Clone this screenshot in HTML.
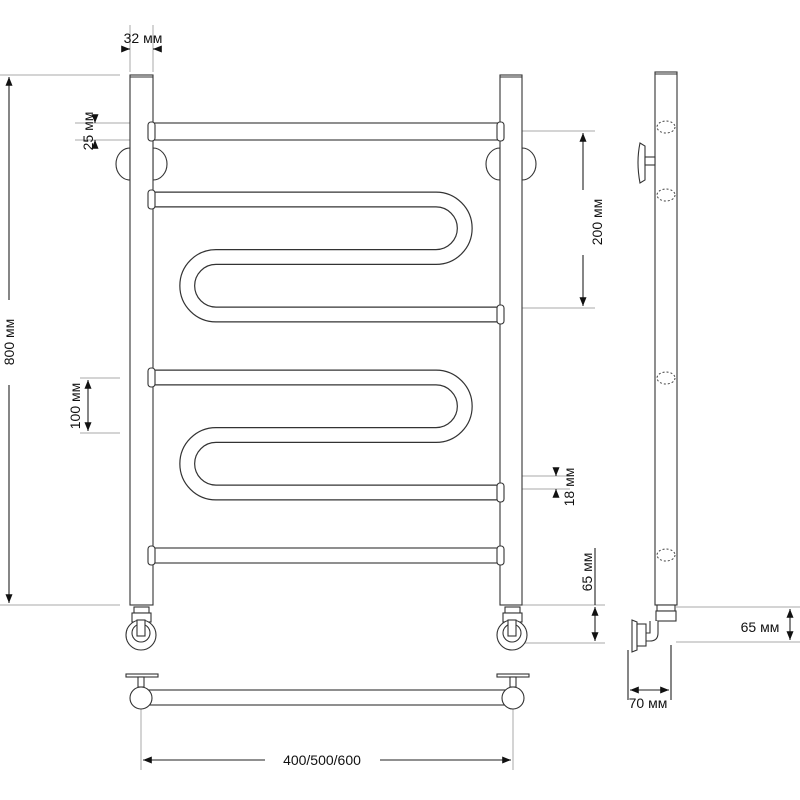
<!DOCTYPE html>
<html><head><meta charset="utf-8"><style>
html,body{margin:0;padding:0;background:#fff;}
svg{display:block;font-family:"Liberation Sans",sans-serif;}
</style></head><body>
<svg width="800" height="800" viewBox="0 0 800 800" xmlns="http://www.w3.org/2000/svg">
<defs>
<marker id="a" viewBox="0 0 10 10" refX="10" refY="5" markerWidth="8" markerHeight="8" orient="auto-start-reverse"><path d="M0,1 L10,5 L0,9 z" fill="#111"/></marker>
</defs>
<g stroke="#aaa" stroke-width="1" fill="none">
<line x1="0" y1="75" x2="120" y2="75"/><line x1="0" y1="605" x2="120" y2="605"/>
<line x1="130" y1="25" x2="130" y2="72"/><line x1="153" y1="25" x2="153" y2="72"/>
<line x1="75" y1="123" x2="145" y2="123"/><line x1="75" y1="140" x2="145" y2="140"/>
<line x1="80" y1="378" x2="120" y2="378"/><line x1="80" y1="433" x2="120" y2="433"/>
<line x1="515" y1="131" x2="595" y2="131"/><line x1="515" y1="308" x2="595" y2="308"/>
<line x1="515" y1="476" x2="570" y2="476"/><line x1="515" y1="489" x2="570" y2="489"/>
<line x1="520" y1="605" x2="605" y2="605"/><line x1="525" y1="643" x2="605" y2="643"/>
<line x1="141" y1="708" x2="141" y2="770"/><line x1="513" y1="708" x2="513" y2="770"/>
<line x1="676" y1="607" x2="800" y2="607"/><line x1="676" y1="642" x2="800" y2="642"/>
</g>
<g stroke="#222" stroke-width="1.1" fill="none">
<line x1="9" y1="77" x2="9" y2="300" marker-start="url(#a)"/><line x1="9" y1="385" x2="9" y2="603" marker-end="url(#a)"/>
<line x1="123" y1="49" x2="130" y2="49" marker-end="url(#a)"/><line x1="160" y1="49" x2="153" y2="49" marker-end="url(#a)"/>
<line x1="95" y1="116" x2="95" y2="123" marker-end="url(#a)"/><line x1="95" y1="147" x2="95" y2="140" marker-end="url(#a)"/>
<line x1="88" y1="380" x2="88" y2="431" marker-start="url(#a)" marker-end="url(#a)"/>
<line x1="583" y1="133" x2="583" y2="190" marker-start="url(#a)"/><line x1="583" y1="255" x2="583" y2="306" marker-end="url(#a)"/>
<line x1="556" y1="469" x2="556" y2="476" marker-end="url(#a)"/><line x1="556" y1="496" x2="556" y2="489" marker-end="url(#a)"/>
<line x1="595" y1="548" x2="595" y2="605"/><line x1="595" y1="607" x2="595" y2="641" marker-start="url(#a)" marker-end="url(#a)"/>
<line x1="143" y1="760" x2="265" y2="760" marker-start="url(#a)"/><line x1="380" y1="760" x2="511" y2="760" marker-end="url(#a)"/>
<line x1="790" y1="609" x2="790" y2="640" marker-start="url(#a)" marker-end="url(#a)"/>
<line x1="628" y1="650" x2="628" y2="700"/><line x1="671" y1="645" x2="671" y2="700"/>
<line x1="630" y1="690" x2="669" y2="690" marker-start="url(#a)" marker-end="url(#a)"/>
</g>
<g fill="#111" font-size="14">
<text x="143" y="43" text-anchor="middle">32 мм</text>
<text transform="translate(93,131) rotate(-90)" text-anchor="middle">25 мм</text>
<text transform="translate(14,342) rotate(-90)" text-anchor="middle">800 мм</text>
<text transform="translate(80,406) rotate(-90)" text-anchor="middle">100 мм</text>
<text transform="translate(602,222) rotate(-90)" text-anchor="middle">200 мм</text>
<text transform="translate(574,487) rotate(-90)" text-anchor="middle">18 мм</text>
<text transform="translate(592,572) rotate(-90)" text-anchor="middle">65 мм</text>
<text x="322" y="765" text-anchor="middle">400/500/600</text>
<text x="760" y="632" text-anchor="middle">65 мм</text>
<text x="648" y="708" text-anchor="middle">70 мм</text>
</g>
<g stroke="#333" stroke-width="1.1" fill="#fff">
<path d="M130,148 A14,16 0 0 0 130,180 z"/><path d="M153,148 A14,16 0 0 1 153,180 z"/>
<path d="M500,148 A14,16 0 0 0 500,180 z"/><path d="M522,148 A14,16 0 0 1 522,180 z"/>
</g>
<g fill="none">
<path d="M150,199.5 H436 A28.75,28.75 0 0 1 436,257 H216 A28.75,28.75 0 0 0 216,314.5 H502" stroke="#333" stroke-width="16"/>
<path d="M150,199.5 H436 A28.75,28.75 0 0 1 436,257 H216 A28.75,28.75 0 0 0 216,314.5 H502" stroke="#fff" stroke-width="13.6"/>
<path d="M150,377.5 H436 A28.75,28.75 0 0 1 436,435 H216 A28.75,28.75 0 0 0 216,492.5 H502" stroke="#333" stroke-width="16"/>
<path d="M150,377.5 H436 A28.75,28.75 0 0 1 436,435 H216 A28.75,28.75 0 0 0 216,492.5 H502" stroke="#fff" stroke-width="13.6"/>
</g>
<g stroke="#333" stroke-width="1.1" fill="#fff">
<rect x="150" y="123" width="352" height="17"/>
<rect x="150" y="548" width="352" height="15"/>
<rect x="130" y="75" width="23" height="530"/>
<rect x="500" y="75" width="22" height="530"/>
<line x1="130" y1="77" x2="153" y2="77"/><line x1="500" y1="77" x2="522" y2="77"/>
<rect x="148" y="122" width="7" height="19" rx="3"/><rect x="497" y="122" width="7" height="19" rx="3"/>
<rect x="148" y="190" width="7" height="19" rx="3"/><rect x="497" y="305" width="7" height="19" rx="3"/>
<rect x="148" y="368" width="7" height="19" rx="3"/><rect x="497" y="483" width="7" height="19" rx="3"/>
<rect x="148" y="546" width="7" height="19" rx="3"/><rect x="497" y="546" width="7" height="19" rx="3"/>
<rect x="134" y="607" width="15" height="6"/><rect x="132" y="613" width="19" height="9"/>
<circle cx="141" cy="635" r="15"/><circle cx="141" cy="633" r="9"/><rect x="137" y="620" width="8" height="16"/>
<rect x="505" y="607" width="15" height="6"/><rect x="503" y="613" width="19" height="9"/>
<circle cx="512" cy="635" r="15"/><circle cx="512" cy="633" r="9"/><rect x="508" y="620" width="8" height="16"/>
<rect x="145" y="690" width="368" height="15"/>
<rect x="126" y="674" width="32" height="3"/><rect x="138" y="677" width="6" height="10"/>
<circle cx="141" cy="698" r="11"/>
<rect x="497" y="674" width="32" height="3"/><rect x="510" y="677" width="6" height="10"/>
<circle cx="513" cy="698" r="11"/>
<rect x="655" y="72" width="22" height="533"/>
<line x1="655" y1="74" x2="677" y2="74"/>
<path d="M640,143 Q636,162 640,183 L645,180 L645,146 z"/><rect x="645" y="157" width="10" height="8"/>
<rect x="657" y="605" width="18" height="6"/><rect x="656" y="611" width="20" height="10"/>
<path d="M658,621 V633 Q658,641 650,641 H645 V633 H650 V621" fill="#fff"/>
<path d="M632,620 L637,622 V650 L632,652 z"/><rect x="637" y="624" width="9" height="22"/>
</g>
<g stroke="#444" stroke-width="1" fill="none" stroke-dasharray="2,2">
<ellipse cx="666" cy="127" rx="9" ry="6"/><ellipse cx="666" cy="195" rx="9" ry="6"/>
<ellipse cx="666" cy="378" rx="9" ry="6"/><ellipse cx="666" cy="555" rx="9" ry="6"/>
</g>
</svg>
</body></html>
